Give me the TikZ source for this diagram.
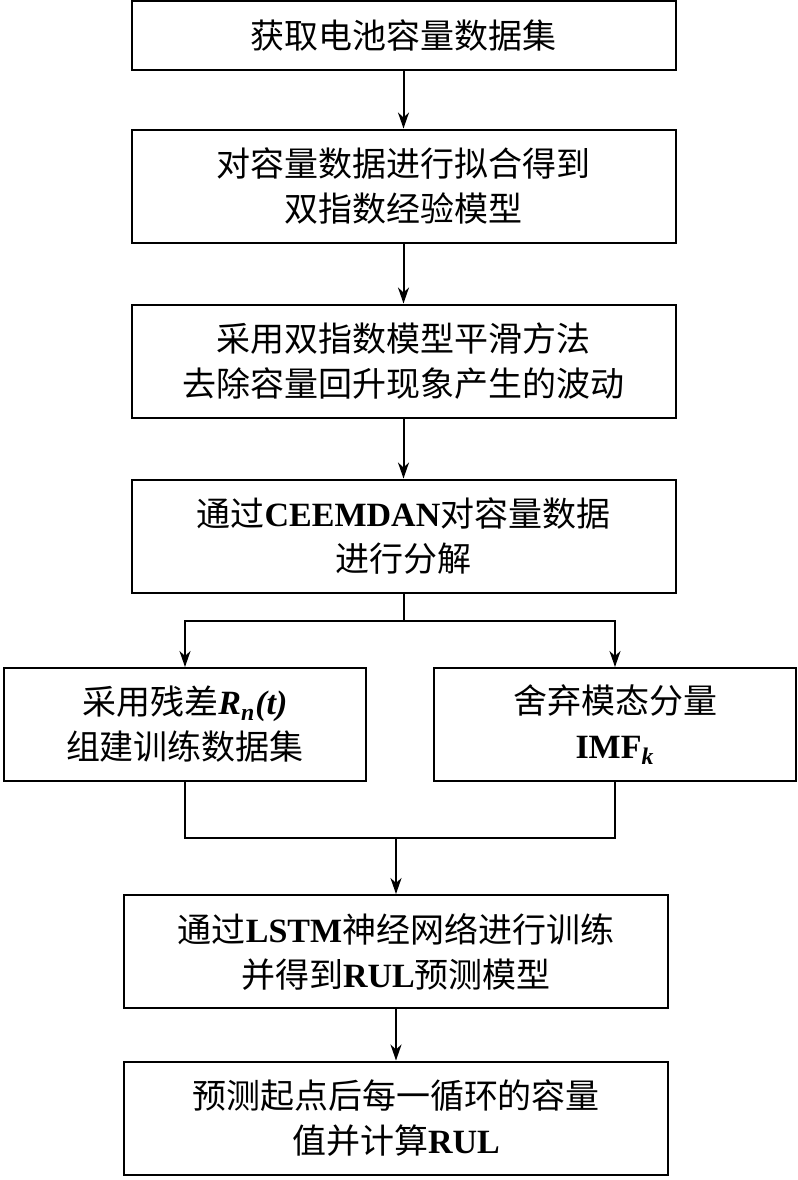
\documentclass[tikz,border=0pt]{standalone}
\usepackage{fontspec}
\setmainfont{Liberation Serif}
\newfontfamily\cjk{Noto Sans CJK SC}
\usetikzlibrary{arrows.meta}

\tikzset{
  box/.style={draw,line width=1pt,align=center,inner sep=0pt,minimum width=272pt,minimum height=56.5pt,
    font=\fontsize{17}{22.5}\selectfont\cjk},
  halfbox/.style={box,minimum width=181pt}
}
\newcommand{\la}[1]{{\fontspec{Liberation Serif}\bfseries #1}}
\newcommand{\li}[1]{{\fontspec{Liberation Serif}\bfseries\itshape #1}}

\begin{document}
\begin{tikzpicture}[x=0.5pt,y=-0.5pt,line width=1pt,>={Stealth[length=8pt,width=5.5pt,inset=2.5pt]}]
  \useasboundingbox (0,0) rectangle (798,1180);
  \node[box,minimum height=34.5pt] (data) at (403.5,35.5) {获取电池容量数据集};
  \node[box] (fit) at (403.5,186) {对容量数据进行拟合得到\\双指数经验模型};
  \node[box] (smooth) at (403.5,361) {采用双指数模型平滑方法\\去除容量回升现象产生的波动};
  \node[box] (ceemdan) at (403.5,536) {通过\la{CEEMDAN}对容量数据\\进行分解};
  \node[halfbox] (resid) at (185,724.5) {采用残差\li{R\textsubscript{n}(t)}\\组建训练数据集};
  \node[halfbox] (imf) at (615,724.5) {舍弃模态分量\\\la{IMF}\li{\textsubscript{k}}};
  \node[box] (lstm) at (396,951.5) {通过\la{LSTM}神经网络进行训练\\并得到\la{RUL}预测模型};
  \node[box] (rul) at (396,1118) {预测起点后每一循环的容量\\值并计算\la{RUL}};
  % 主流程
  \draw[->] (data) -- (fit);
  \draw[->] (fit) -- (smooth);
  \draw[->] (smooth) -- (ceemdan);
  % 分支与汇合
  \coordinate (split) at (403.5,621); \coordinate (merge) at (396,838);
  \draw (ceemdan) -- (split);
  \draw[->] (split) -| (resid);
  \draw[->] (split) -| (imf);
  \draw (resid) |- (merge) -| (imf);
  \draw[->] (merge) -- (lstm);
  \draw[->] (lstm) -- (rul);
\end{tikzpicture}
\end{document}
